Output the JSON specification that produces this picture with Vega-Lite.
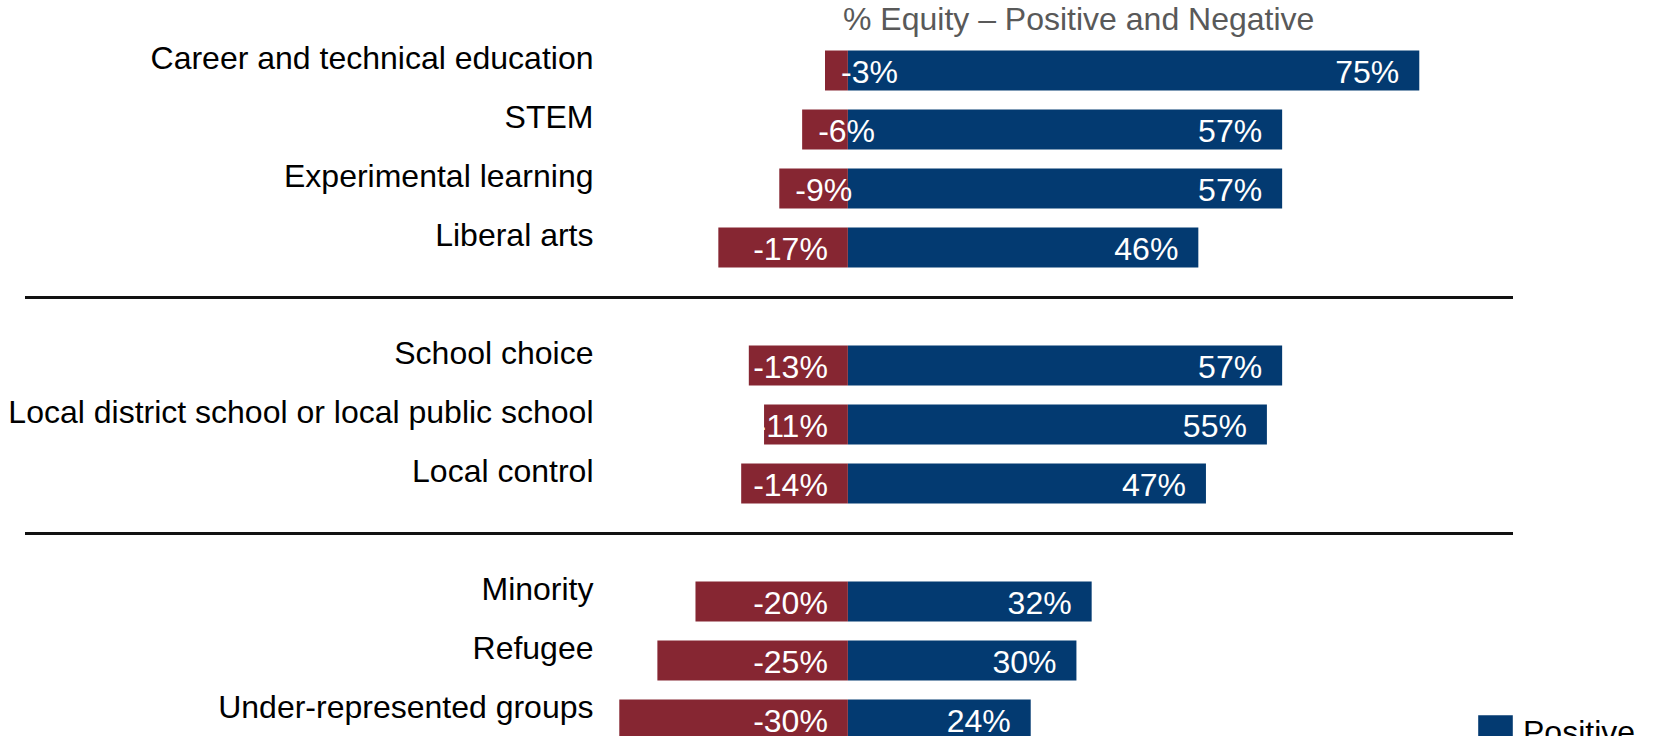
{
  "$schema": "https://vega.github.io/schema/vega-lite/v6.json",
  "autosize": {"type": "none"},
  "padding": {"left": 25, "top": 41, "right": 141, "bottom": 0},
  "width": 1488,
  "height": 708,
  "config": {
    "view": {"stroke": null},
    "font": "Liberation Sans"
  },
  "title": {
    "text": "% Equity – Positive and Negative",
    "anchor": "start",
    "frame": "group",
    "dx": 818,
    "dy": 31,
    "offset": 10,
    "baseline": "alphabetic",
    "fontSize": 32,
    "fontWeight": "normal",
    "color": "#595959",
    "font": "Liberation Sans"
  },
  "datasets": {
    "bars": [
      {"item": "Career and technical education", "sign": "Positive", "value": 75},
      {"item": "Career and technical education", "sign": "Negative", "value": -3},
      {"item": "STEM", "sign": "Positive", "value": 57},
      {"item": "STEM", "sign": "Negative", "value": -6},
      {"item": "Experimental learning", "sign": "Positive", "value": 57},
      {"item": "Experimental learning", "sign": "Negative", "value": -9},
      {"item": "Liberal arts", "sign": "Positive", "value": 46},
      {"item": "Liberal arts", "sign": "Negative", "value": -17},
      {"item": "School choice", "sign": "Positive", "value": 57},
      {"item": "School choice", "sign": "Negative", "value": -13},
      {"item": "Local district school or local public school", "sign": "Positive", "value": 55},
      {"item": "Local district school or local public school", "sign": "Negative", "value": -11},
      {"item": "Local control", "sign": "Positive", "value": 47},
      {"item": "Local control", "sign": "Negative", "value": -14},
      {"item": "Minority", "sign": "Positive", "value": 32},
      {"item": "Minority", "sign": "Negative", "value": -20},
      {"item": "Refugee", "sign": "Positive", "value": 30},
      {"item": "Refugee", "sign": "Negative", "value": -25},
      {"item": "Under-represented groups", "sign": "Positive", "value": 24},
      {"item": "Under-represented groups", "sign": "Negative", "value": -30}
    ],
    "separators": [
      {"item": "sep1"},
      {"item": "sep2"}
    ]
  },
  "encoding": {
    "y": {
      "field": "item",
      "type": "nominal",
      "scale": {
        "domain": ["Career and technical education", "STEM", "Experimental learning", "Liberal arts", "sep1", "School choice", "Local district school or local public school", "Local control", "sep2", "Minority", "Refugee", "Under-represented groups"],
        "paddingInner": 0.322,
        "paddingOuter": 0.161
      },
      "axis": {
        "orient": "left",
        "offset": -568,
        "title": null,
        "ticks": false,
        "domain": false,
        "labelPadding": 0,
        "labelAlign": "right",
        "labelBaseline": "middle",
        "labelFontSize": 32,
        "labelColor": "#000000",
        "labelFont": "Liberation Sans",
        "labelLimit": 0,
        "labelOffset": -12,
        "labelExpr": "indexof(datum.value, 'sep') === 0 ? '' : datum.value"
      }
    }
  },
  "layer": [
    {
      "data": {"name": "separators"},
      "mark": {"type": "rule", "color": "#111111", "strokeWidth": 3, "yOffset": -9},
      "encoding": {}
    },
    {
      "data": {"name": "bars"},
      "mark": {"type": "bar"},
      "encoding": {
        "x": {
          "field": "value",
          "type": "quantitative",
          "scale": {"domain": [-108.0, 87.3], "nice": false, "zero": false},
          "axis": null
        },
        "x2": {"datum": 0},
        "color": {
          "field": "sign",
          "type": "nominal",
          "scale": {"domain": ["Positive", "Negative"], "range": ["#033A71", "#862632"]},
          "legend": {
            "title": null,
            "orient": "none",
            "legendX": 1453,
            "legendY": 674,
            "padding": 0,
            "symbolType": "square",
            "symbolSize": 1197,
            "symbolStrokeWidth": 0,
            "labelFontSize": 32,
            "labelColor": "#000000",
            "labelFont": "Liberation Sans",
            "labelOffset": 10,
            "labelLimit": 300,
            "rowPadding": 8
          }
        }
      }
    },
    {
      "data": {"name": "bars"},
      "transform": [
        {"filter": "datum.sign === 'Positive'"},
        {"calculate": "datum.value + '%'", "as": "label"}
      ],
      "mark": {"type": "text", "align": "right", "baseline": "middle", "dx": -20, "dy": 2, "fontSize": 32, "color": "#ffffff", "font": "Liberation Sans"},
      "encoding": {
        "x": {"field": "value", "type": "quantitative"},
        "text": {"field": "label"}
      }
    },
    {
      "data": {"name": "bars"},
      "transform": [
        {"filter": "datum.sign === 'Negative' && datum.value <= -10"},
        {"calculate": "datum.value + '%'", "as": "label"}
      ],
      "mark": {"type": "text", "align": "right", "baseline": "middle", "dx": -20, "dy": 2, "fontSize": 32, "color": "#ffffff", "font": "Liberation Sans"},
      "encoding": {
        "x": {"datum": 0},
        "text": {"field": "label"}
      }
    },
    {
      "data": {"name": "bars"},
      "transform": [
        {"filter": "datum.sign === 'Negative' && datum.value > -10"},
        {"calculate": "datum.value + '%'", "as": "label"}
      ],
      "mark": {"type": "text", "align": "left", "baseline": "middle", "dx": 16, "dy": 2, "fontSize": 32, "color": "#ffffff", "font": "Liberation Sans"},
      "encoding": {
        "x": {"field": "value", "type": "quantitative"},
        "text": {"field": "label"}
      }
    }
  ]
}
